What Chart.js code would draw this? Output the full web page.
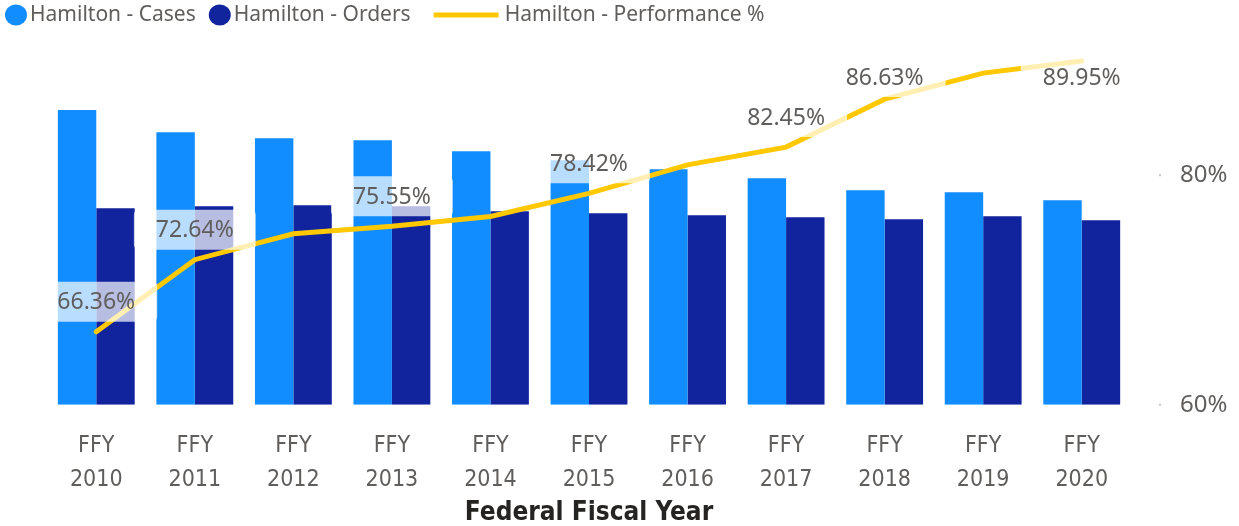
<!DOCTYPE html>
<html>
<head>
<meta charset="utf-8">
<script src="https://cdn.jsdelivr.net/npm/chart.js@4"></script>
<style>
  html, body { margin: 0; padding: 0; background: #fff; }
  #wrap { width: 1239px; height: 526px; position: relative; }
</style>
</head>
<body>
<div id="wrap"><canvas id="perfChart"></canvas></div>
<script>
// Chart data
const years = ['2010', '2011', '2012', '2013', '2014', '2015', '2016', '2017', '2018', '2019', '2020'];
const casesCount = [2940, 2720, 2660, 2640, 2530, 2440, 2350, 2260, 2140, 2120, 2040];
const ordersCount = [1960, 1980, 1990, 1980, 1930, 1910, 1890, 1870, 1850, 1880, 1840];
const performancePct = [66.36, 72.64, 74.9, 75.55, 76.4, 78.42, 80.9, 82.45, 86.63, 88.9, 89.95];
const labeledYears = ['2010', '2011', '2013', '2015', '2017', '2018', '2020'];
const pctTicks = [60, 80];

const uiFont = "'Noto Sans', 'Open Sans', sans-serif";
const dinFont = "'Liberation Sans Narrow', 'DejaVu Sans Condensed', 'Noto Sans', sans-serif";
const textGrey = '#605E5C';

// legend drawn by hand so the line sample can be wider than the dots
const legendPlugin = {
  id: 'topLegend',
  afterDraw(chart) {
    const ctx = chart.ctx;
    let x = 5;
    const y = 15;
    ctx.save();
    ctx.font = '21px ' + uiFont;
    ctx.textBaseline = 'middle';
    chart.data.datasets.forEach(ds => {
      if (ds.type === 'line') {
        x += 10;
        ctx.strokeStyle = ds.borderColor;
        ctx.lineWidth = 5;
        ctx.beginPath();
        ctx.moveTo(x, y);
        ctx.lineTo(x + 65, y);
        ctx.stroke();
        x += 71;
      } else {
        ctx.fillStyle = ds.backgroundColor;
        ctx.beginPath();
        ctx.ellipse(x + 11, y, 11, 10.5, 0, 0, Math.PI * 2);
        ctx.fill();
        x += 25;
      }
      ctx.fillStyle = textGrey;
      ctx.textAlign = 'left';
      ctx.fillText(ds.label, x, y);
      x += ctx.measureText(ds.label).width + 13;
    });
    ctx.restore();
  }
};

// percentage labels with translucent rounded boxes
const pctLabelPlugin = {
  id: 'pctLabels',
  afterDatasetsDraw(chart) {
    const ctx = chart.ctx;
    const meta = chart.getDatasetMeta(2);
    const area = chart.chartArea;
    ctx.save();
    ctx.font = '23px ' + uiFont;
    ctx.textAlign = 'center';
    ctx.textBaseline = 'middle';
    years.forEach((yr, i) => {
      if (!labeledYears.includes(yr)) return;
      const pt = meta.data[i];
      const txt = performancePct[i].toFixed(2) + '%';
      let ly = pt.y - 30;
      if (ly < area.top + 28) ly = area.top + 28;
      const w = ctx.measureText(txt).width + 44;
      const h = 40;
      ctx.fillStyle = 'rgba(255,255,255,0.7)';
      ctx.beginPath();
      ctx.roundRect(pt.x - w / 2, ly - h / 2, w, h, 5);
      ctx.fill();
      ctx.fillStyle = textGrey;
      ctx.fillText(txt, pt.x, ly + 1);
    });
    ctx.restore();
  }
};

// small grey dots in front of the right-hand tick labels
const tickDotPlugin = {
  id: 'tickDots',
  afterDraw(chart) {
    const ctx = chart.ctx;
    const s = chart.scales.y1;
    ctx.save();
    ctx.fillStyle = '#C8C6C4';
    pctTicks.forEach(v => {
      const py = s.getPixelForValue(v);
      ctx.fillRect(s.left + 28, py - 1, 2, 2);
    });
    ctx.restore();
  }
};

const ctx = document.getElementById('perfChart').getContext('2d');
new Chart(ctx, {
  type: 'bar',
  data: {
    labels: years.map(y => ['FFY', y]),
    datasets: [
      {
        label: 'Hamilton - Cases',
        data: casesCount,
        backgroundColor: '#118DFF',
        yAxisID: 'y',
        order: 2,
        categoryPercentage: 0.78,
        barPercentage: 1.0
      },
      {
        label: 'Hamilton - Orders',
        data: ordersCount,
        backgroundColor: '#12239E',
        yAxisID: 'y',
        order: 2,
        categoryPercentage: 0.78,
        barPercentage: 1.0
      },
      {
        type: 'line',
        label: 'Hamilton - Performance %',
        data: performancePct,
        borderColor: '#FFC800',
        borderWidth: 5,
        pointRadius: 0,
        tension: 0,
        borderCapStyle: 'round',
        yAxisID: 'y1',
        order: 0
      }
    ]
  },
  options: {
    responsive: true,
    maintainAspectRatio: false,
    animation: false,
    layout: { padding: { top: 49, left: 47, right: 0, bottom: -3 } },
    plugins: {
      legend: { display: false },
      tooltip: { enabled: false }
    },
    scales: {
      x: {
        grid: { display: false, drawTicks: false },
        border: { display: false },
        ticks: {
          color: textGrey,
          font: { family: dinFont, size: 23, lineHeight: 1.48 },
          padding: 24,
          maxRotation: 0
        },
        title: {
          display: true,
          text: 'Federal Fiscal Year',
          color: '#252423',
          font: { family: dinFont, size: 26, weight: 'bold' },
          padding: { top: -23, bottom: 0 }
        }
      },
      y: {
        display: false,
        min: 0,
        max: 3550
      },
      y1: {
        position: 'right',
        min: 60,
        max: 91,
        grid: { display: false, drawTicks: false },
        border: { display: false },
        afterBuildTicks: scale => {
          scale.ticks = pctTicks.map(v => ({ value: v }));
        },
        afterFit: scale => {
          // fixed width, and keep the big label gap from pushing the plot area in
          scale.width = 108;
          scale.paddingTop = 12;
          scale.paddingBottom = 12;
        },
        ticks: {
          color: textGrey,
          font: { family: uiFont, size: 24 },
          padding: 49,
          callback: v => v + '%'
        }
      }
    }
  },
  plugins: [legendPlugin, pctLabelPlugin, tickDotPlugin]
});
</script>
</body>
</html>
